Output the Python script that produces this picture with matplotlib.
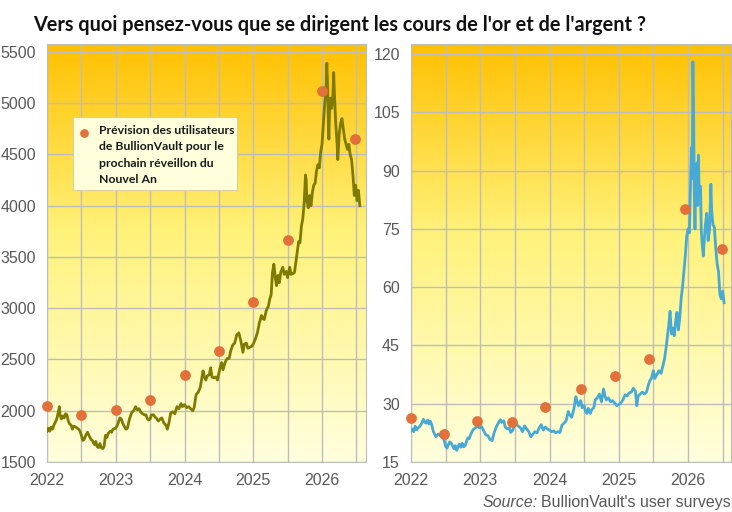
import numpy as np
import matplotlib
matplotlib.use("Agg")
import matplotlib.pyplot as plt
from matplotlib.colors import LinearSegmentedColormap

# --- Data ---
gold_t = [2022.00, 2022.02, 2022.04, 2022.06, 2022.08, 2022.10, 2022.13, 2022.15, 2022.18, 2022.19,
          2022.21, 2022.23, 2022.25, 2022.27, 2022.29, 2022.31, 2022.33, 2022.35, 2022.37, 2022.39,
          2022.42, 2022.44, 2022.46, 2022.48, 2022.50, 2022.52, 2022.54, 2022.57, 2022.59, 2022.61,
          2022.64, 2022.66, 2022.69, 2022.71, 2022.73, 2022.75, 2022.77, 2022.79, 2022.81, 2022.83,
          2022.85, 2022.87, 2022.89, 2022.92, 2022.94, 2022.96, 2023.00, 2023.03, 2023.06, 2023.08,
          2023.10, 2023.13, 2023.15, 2023.17, 2023.20, 2023.23, 2023.26, 2023.29, 2023.31, 2023.34,
          2023.36, 2023.39, 2023.42, 2023.44, 2023.46, 2023.48, 2023.50, 2023.52, 2023.55, 2023.57,
          2023.60, 2023.62, 2023.65, 2023.67, 2023.70, 2023.73, 2023.75, 2023.77, 2023.80, 2023.83,
          2023.86, 2023.89, 2023.92, 2023.95, 2023.97, 2024.00, 2024.03, 2024.06, 2024.09, 2024.12,
          2024.14, 2024.17, 2024.20, 2024.23, 2024.27, 2024.29, 2024.31, 2024.33, 2024.36, 2024.38,
          2024.40, 2024.43, 2024.46, 2024.48, 2024.51, 2024.54, 2024.56, 2024.59, 2024.62, 2024.65,
          2024.67, 2024.70, 2024.73, 2024.76, 2024.79, 2024.82, 2024.85, 2024.87, 2024.90, 2024.92,
          2024.95, 2024.98, 2025.00, 2025.03, 2025.06, 2025.09, 2025.12, 2025.14, 2025.16, 2025.19,
          2025.22, 2025.24, 2025.26, 2025.28, 2025.30, 2025.32, 2025.34, 2025.36, 2025.38, 2025.40,
          2025.43, 2025.45, 2025.48, 2025.50, 2025.53, 2025.55, 2025.58, 2025.60, 2025.62, 2025.64,
          2025.66, 2025.68, 2025.70, 2025.72, 2025.74, 2025.76, 2025.77, 2025.78, 2025.80, 2025.82,
          2025.84, 2025.86, 2025.88, 2025.90, 2025.92, 2025.94, 2025.96, 2025.98, 2026.00, 2026.02,
          2026.04, 2026.06, 2026.07, 2026.08, 2026.09, 2026.10, 2026.11, 2026.12, 2026.14, 2026.16,
          2026.17, 2026.18, 2026.20, 2026.22, 2026.23, 2026.25, 2026.27, 2026.29, 2026.31, 2026.33,
          2026.35, 2026.37, 2026.39, 2026.41, 2026.43, 2026.45, 2026.47, 2026.49, 2026.51, 2026.53,
          2026.55]
gold_v = [1800, 1830, 1800, 1840, 1820, 1860, 1900, 1940, 2040, 1960,
          1920, 1950, 1930, 1970, 1960, 1900, 1870, 1860, 1820, 1850,
          1840, 1830, 1820, 1800, 1760, 1710, 1720, 1770, 1790, 1760,
          1720, 1710, 1670, 1700, 1650, 1640, 1680, 1640, 1630, 1650,
          1760, 1740, 1780, 1800, 1790, 1820, 1830, 1870, 1930, 1920,
          1880, 1840, 1820, 1830, 1920, 1980, 2000, 2040, 2010, 2020,
          1990, 1970, 1960, 1960, 1920, 1910, 1920, 1960, 1960, 1940,
          1920, 1900, 1920, 1930, 1880, 1860, 1820, 1870, 1980, 1990,
          1970, 2040, 2020, 2070, 2040, 2060, 2030, 2040, 2020, 2000,
          2030, 2160, 2180, 2230, 2390, 2330, 2300, 2340, 2350, 2420,
          2330, 2320, 2330, 2300, 2400, 2470, 2400, 2470, 2510, 2510,
          2580, 2640, 2660, 2740, 2760, 2680, 2570, 2650, 2660, 2610,
          2620, 2630, 2650, 2700, 2760, 2860, 2930, 2900, 2890, 2980,
          3020, 3090, 3130, 3350, 3430, 3300, 3220, 3320, 3250, 3350,
          3400, 3330, 3360, 3300, 3400, 3330, 3340, 3350, 3450, 3550,
          3650, 3640, 3800, 3870, 4020, 4300, 4250, 4050, 3980, 4100,
          4000, 4130, 4200, 4220, 4340, 4400, 4370, 4520, 4600, 4800,
          5000, 5150, 5390, 5200, 4900, 4650, 4950, 5050, 4950, 5100,
          5300, 5100, 4800, 4600, 4450, 4700, 4800, 4850, 4750, 4650,
          4600, 4550, 4600, 4500, 4450, 4300, 4100, 4200, 4050, 4150,
          4000]

silver_t = [2022.00, 2022.02, 2022.04, 2022.06, 2022.08, 2022.10, 2022.12, 2022.15, 2022.18, 2022.20,
            2022.22, 2022.24, 2022.26, 2022.28, 2022.30, 2022.32, 2022.34, 2022.36, 2022.38, 2022.40,
            2022.42, 2022.44, 2022.46, 2022.48, 2022.50, 2022.52, 2022.54, 2022.56, 2022.58, 2022.60,
            2022.62, 2022.64, 2022.66, 2022.68, 2022.70, 2022.72, 2022.74, 2022.76, 2022.78, 2022.80,
            2022.82, 2022.84, 2022.86, 2022.88, 2022.90, 2022.93, 2022.96, 2022.99, 2023.02, 2023.05,
            2023.08, 2023.11, 2023.14, 2023.17, 2023.20, 2023.23, 2023.26, 2023.29, 2023.31, 2023.34,
            2023.36, 2023.39, 2023.42, 2023.44, 2023.47, 2023.50, 2023.52, 2023.55, 2023.58, 2023.61,
            2023.64, 2023.67, 2023.70, 2023.73, 2023.76, 2023.79, 2023.82, 2023.85, 2023.88, 2023.91,
            2023.94, 2023.97, 2024.00, 2024.03, 2024.06, 2024.09, 2024.12, 2024.15, 2024.18, 2024.21,
            2024.24, 2024.27, 2024.29, 2024.32, 2024.35, 2024.38, 2024.40, 2024.42, 2024.45, 2024.47,
            2024.50, 2024.52, 2024.54, 2024.56, 2024.59, 2024.61, 2024.64, 2024.66, 2024.69, 2024.72,
            2024.75, 2024.78, 2024.80, 2024.82, 2024.85, 2024.88, 2024.91, 2024.94, 2024.97, 2025.00,
            2025.03, 2025.06, 2025.09, 2025.12, 2025.15, 2025.18, 2025.21, 2025.24, 2025.26, 2025.28,
            2025.31, 2025.34, 2025.37, 2025.40, 2025.43, 2025.45, 2025.47, 2025.50, 2025.52, 2025.55,
            2025.58, 2025.61, 2025.64, 2025.66, 2025.68, 2025.70, 2025.72, 2025.74, 2025.76, 2025.78,
            2025.80, 2025.82, 2025.84, 2025.86, 2025.88, 2025.90, 2025.92, 2025.94, 2025.96, 2025.98,
            2026.00, 2026.02, 2026.03, 2026.04, 2026.05, 2026.06, 2026.07, 2026.08, 2026.09, 2026.10,
            2026.11, 2026.12, 2026.13, 2026.14, 2026.15, 2026.16, 2026.18, 2026.19, 2026.20, 2026.22,
            2026.23, 2026.25, 2026.27, 2026.29, 2026.31, 2026.33, 2026.34, 2026.36, 2026.38, 2026.40,
            2026.42, 2026.44, 2026.46, 2026.48, 2026.50, 2026.52]
silver_v = [23.0, 23.5, 22.8, 24.2, 23.3, 23.8, 24.0, 24.8, 26.0, 25.2,
            25.0, 25.8, 24.8, 25.5, 24.5, 23.0, 22.2, 21.5, 22.0, 22.2,
            21.8, 22.0, 21.5, 20.5, 19.0, 18.6, 19.5, 20.2, 19.8, 19.2,
            18.4, 19.2, 18.0, 19.0, 19.6, 18.8, 19.8, 18.9, 19.2, 20.2,
            21.2, 21.0, 22.0, 22.8, 23.4, 23.8, 24.2, 23.8, 24.1, 23.0,
            22.0, 21.8, 20.8, 20.5, 22.5, 24.0, 25.0, 25.9, 25.2, 25.6,
            24.0, 23.5, 23.8, 22.6, 23.2, 25.0, 24.8, 24.2, 23.8, 22.8,
            24.3, 23.5, 22.8, 21.5, 22.2, 22.8, 22.5, 23.8, 24.6, 23.2,
            24.0, 23.5, 23.2, 22.8, 23.0, 22.5, 22.8, 22.6, 24.5, 25.0,
            25.6, 28.0, 27.2, 26.5, 28.5, 31.8, 30.5, 29.5, 30.8, 29.0,
            29.5, 28.0, 27.5, 28.8, 27.5, 28.5, 29.0, 31.0, 31.5, 32.5,
            30.5, 33.8, 32.0, 31.0, 31.5, 30.5, 30.8, 30.2, 29.5, 29.8,
            30.2, 31.0, 32.3, 32.0, 32.8, 33.0, 34.0, 33.2, 29.5, 32.0,
            32.5, 33.0, 32.5, 33.0, 35.0, 36.0, 36.5, 38.5, 36.5, 37.5,
            38.5, 37.8, 40.0, 41.5, 44.0, 47.0, 50.0, 53.8, 48.0, 49.5,
            47.5, 51.0, 53.5, 49.0, 52.0, 57.0, 60.0, 64.0, 68.0, 73.0,
            75.0, 74.0, 82.0, 90.0, 96.0, 88.0, 118.0, 105.0, 85.0, 75.0,
            88.0, 82.0, 92.0, 81.0, 94.0, 84.0, 86.0, 75.0, 72.0, 68.0,
            71.0, 76.0, 79.0, 72.0, 75.0, 86.5, 80.0, 76.0, 75.5, 70.0,
            66.0, 64.0, 58.0, 57.0, 59.0, 56.0]

survey_t = [2022.0, 2022.5, 2023.0, 2023.5, 2024.0, 2024.5, 2025.0, 2025.5, 2026.0, 2026.48]
gold_survey = [2050, 1960, 2010, 2105, 2350, 2580, 3065, 3665, 5120, 4650]
silver_survey_t = [2022.0, 2022.48, 2022.96, 2023.46, 2023.94, 2024.45, 2024.95, 2025.44, 2025.96, 2026.49]
silver_survey = [26.4, 22.3, 25.5, 25.3, 29.2, 33.9, 37.2, 41.6, 80.1, 69.8]

year_ticks = [2022, 2023, 2024, 2025, 2026]
half_years = [2022 + 0.5 * i for i in range(10)]

# --- Style ---
GOLD_COLOR = "#7f7a00"
SILVER_COLOR = "#46a9d6"
DOT_COLOR = "#e2703a"
GRID_COLOR = "#bdbdbd"
TICK_COLOR = "#595959"
bg_cmap = LinearSegmentedColormap.from_list(
    "bg", [(0.0, "#ffffde"), (0.55, "#fff27a"), (1.0, "#ffc000")])

plt.rcParams["font.family"] = ["Liberation Sans", "DejaVu Sans"]

fig = plt.figure(figsize=(7.32, 5.12), dpi=100)
fig.patch.set_facecolor("white")


def setup_axes(ax, xlim, ylim, yticks):
    ax.set_xlim(*xlim)
    ax.set_ylim(*ylim)
    grad = np.linspace(0, 1, 256).reshape(-1, 1)
    ax.imshow(grad, extent=[0, 1, 0, 1], transform=ax.transAxes, cmap=bg_cmap,
              origin="lower", aspect="auto", zorder=0)
    ax.set_xticks(half_years, minor=True)
    ax.set_xticks(year_ticks)
    ax.set_xticklabels([str(y) for y in year_ticks])
    ax.set_yticks(yticks)
    ax.grid(True, which="both", axis="x", color=GRID_COLOR, linewidth=1, zorder=1)
    ax.grid(True, which="major", axis="y", color=GRID_COLOR, linewidth=1, zorder=1)
    ax.tick_params(which="both", length=0, labelsize=11.5, labelcolor=TICK_COLOR, pad=8)
    for s in ax.spines.values():
        s.set_color(GRID_COLOR)
    ax.set_axisbelow(True)


ax1 = fig.add_axes([47 / 732, 1 - 462 / 512, 319 / 732, 418 / 512])
setup_axes(ax1, (2022, 2026.64), (1500, 5578), range(1500, 5501, 500))
ax1.plot(gold_t, gold_v, color=GOLD_COLOR, linewidth=2.0, zorder=3)
ax1.scatter(survey_t, gold_survey, s=60, color=DOT_COLOR, zorder=4, clip_on=False, linewidths=0)

ax2 = fig.add_axes([411 / 732, 1 - 462 / 512, 320 / 732, 418 / 512])
setup_axes(ax2, (2022, 2026.62), (15, 122.6), range(15, 121, 15))
ax2.plot(silver_t, silver_v, color=SILVER_COLOR, linewidth=2.0, zorder=3)
ax2.scatter(silver_survey_t, silver_survey, s=60, color=DOT_COLOR, zorder=4, clip_on=False, linewidths=0)

# legend box
legend_ax = fig.add_axes([73 / 732, 1 - 190 / 512, 164 / 732, 73 / 512])
legend_ax.set_xlim(0, 164)
legend_ax.set_ylim(73, 0)
legend_ax.set_facecolor("#ffffdc")
for s in legend_ax.spines.values():
    s.set_color("#d8d0a0")
legend_ax.set_xticks([])
legend_ax.set_yticks([])
legend_ax.scatter([11], [16], s=40, color=DOT_COLOR, linewidths=0)
legend_ax.text(26, 8, "Prévision des utilisateurs\nde BullionVault pour le\nprochain réveillon du\nNouvel An",
               fontfamily=["Lato", "DejaVu Sans"], fontweight="bold", fontsize=8.8,
               va="top", ha="left", linespacing=1.6, color="#1a1a1a")

fig.text(33 / 732, 1 - 31 / 512,
         "Vers quoi pensez-vous que se dirigent les cours de l'or et de l'argent ?",
         fontfamily=["Lato", "DejaVu Sans"], fontweight="bold", fontsize=14.3,
         color="#111111", ha="left", va="baseline")

fig.text(731 / 732, 1 - 507 / 512, "BullionVault's user surveys",
         fontsize=11.5, color=TICK_COLOR, ha="right", va="baseline")
fig.text(483 / 732, 1 - 507 / 512, "Source:", fontstyle="italic",
         fontsize=11.5, color=TICK_COLOR, ha="left", va="baseline")

fig.savefig("out.png", dpi=100, facecolor="white")
